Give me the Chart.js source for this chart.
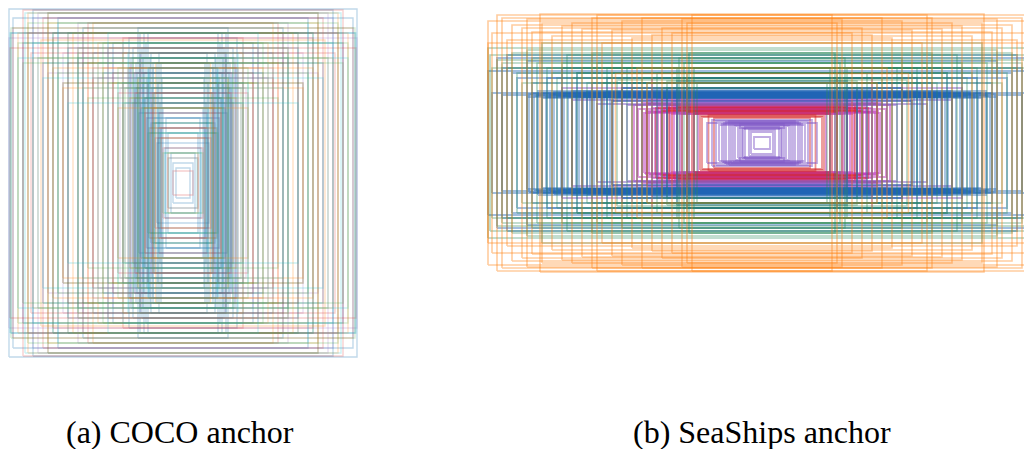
<!DOCTYPE html>
<html>
<head>
<meta charset="utf-8">
<script src="https://cdn.jsdelivr.net/npm/chart.js@4.4.1/dist/chart.umd.min.js"></script>
<style>
  html, body { margin: 0; padding: 0; width: 1024px; height: 449px; overflow: hidden; background: #ffffff; }
  .panel { position: absolute; }
  #cocoWrap { left: 7px; top: 7px; width: 352px; height: 352px; }
  #shipWrap { left: 486px; top: 11px; width: 552px; height: 264px; }
  .cap { position: absolute; font-family: "Liberation Serif", "Times New Roman", serif; font-size: 32px; line-height: 32px; color: #000; white-space: nowrap; }
  #capA { left: 66px; top: 416px; }
  #capB { left: 633px; top: 416px; }
</style>
</head>
<body>
<div id="cocoWrap" class="panel"><canvas id="coco"></canvas></div>
<div id="shipWrap" class="panel"><canvas id="ship"></canvas></div>
<div id="capA" class="cap">(a) COCO anchor</div>
<div id="capB" class="cap">(b) SeaShips anchor</div>
<script>
// ---- Panel captions ----
const captions = ["(a) COCO anchor", "(b) SeaShips anchor"];

// ---- COCO anchors: full width / height of each box (panel pixels) ----
const cocoBlueW = [86, 62, 104, 74, 96, 68, 90, 80, 100, 64, 84, 108, 72, 94, 78, 88, 66, 98, 82, 92, 70, 106, 76, 60,
                   56, 40, 52, 30, 48, 36, 44, 24, 50, 34, 20, 14,
                   348, 344, 300, 280, 250, 230, 200, 180, 160, 140, 120, 340, 320, 260, 210];
const cocoBlueH = [300, 190, 250, 280, 170, 230, 310, 200, 270, 260, 160, 290, 210, 240, 300, 180, 250, 220, 270, 190, 300, 230, 170, 240,
                   120, 150, 80, 100, 140, 70, 110, 60, 90, 130, 40, 30,
                   348, 300, 346, 240, 330, 270, 310, 260, 220, 280, 200, 330, 280, 300, 250];
const cocoTealW = [92, 58, 80, 46, 70, 88, 52, 64, 96, 42, 76, 60, 84, 48, 68, 90, 56, 72, 44, 62, 86, 50, 78, 66];
const cocoTealH = [220, 180, 250, 160, 200, 140, 240, 120, 190, 210, 170, 230, 150, 260, 110, 200, 180, 130, 240, 160, 260, 200, 220, 100];
const cocoCyanW = [346, 316, 330, 300, 280, 250, 230, 210, 200, 170, 150, 130, 110, 90, 70, 50, 36, 120, 96, 86, 80, 68, 58, 46, 28];
const cocoCyanH = [300, 340, 250, 280, 210, 320, 160, 270, 190, 240, 300, 200, 260, 180, 230, 150, 60, 280, 210, 250, 170, 220, 130, 100, 50];
const cocoRedW = [340, 320, 304, 280, 260, 230, 200, 180, 150, 130, 110, 100, 86, 70, 60, 50, 40, 30, 20, 346, 310, 270, 240, 190, 140, 120, 96, 76, 56];
const cocoRedH = [310, 346, 260, 330, 290, 240, 300, 210, 270, 180, 230, 160, 250, 200, 150, 110, 70, 50, 24, 270, 300, 340, 200, 320, 220, 290, 180, 140, 90];
const cocoOrangeW = [300, 270, 250, 220, 190, 170, 140, 120, 106, 90, 76, 60, 55, 44, 30, 284, 330, 310, 260, 240, 210, 180, 160, 130, 66];
const cocoOrangeH = [250, 320, 280, 300, 240, 280, 200, 260, 170, 210, 150, 180, 240, 90, 60, 286, 300, 340, 230, 190, 270, 320, 230, 150, 110];
const cocoGreenW = [330, 310, 290, 260, 240, 210, 190, 160, 130, 116, 100, 80, 60, 40, 344, 320, 270, 250, 230, 200, 150, 120, 90, 70];
const cocoGreenH = [280, 320, 250, 300, 200, 260, 170, 280, 230, 190, 250, 150, 120, 60, 310, 240, 340, 220, 300, 240, 200, 160, 210, 100];
const cocoPurpleW = [320, 290, 240, 210, 180, 150, 126, 104, 84, 64, 44, 348, 300, 270, 230, 200, 170, 140, 116, 96, 74];
const cocoPurpleH = [300, 340, 260, 320, 230, 280, 190, 240, 260, 180, 110, 290, 330, 220, 300, 260, 210, 250, 160, 220, 130];

// ---- SeaShips anchors: full width / height of each box ----
const shipOrangeW = [444, 548, 520, 500, 480, 460, 420, 380, 340, 300, 140, 160, 260, 293, 320, 200, 540, 510, 250, 230,
                     548, 530, 470, 440, 400, 360, 330, 280, 240, 220, 180, 150];
const shipOrangeH = [258, 244, 250, 236, 230, 222, 214, 240, 250, 226, 256, 248, 210, 139, 200, 230, 220, 206, 150, 120,
                     200, 256, 248, 240, 234, 228, 256, 244, 250, 216, 220, 240];
const shipGreenW = [548, 540, 520, 500, 480, 460, 440, 420, 400, 380, 360, 340, 320, 300, 280, 240, 200, 170, 150, 130,
                    544, 530, 510, 490, 470, 450, 430, 410, 390, 370, 350, 330, 310, 290, 270, 260, 230, 210, 190, 166, 156, 146, 136];
const shipGreenH = [190, 150, 160, 180, 120, 170, 200, 140, 160, 130, 150, 180, 120, 140, 170, 130, 110, 150, 140, 120,
                    176, 166, 150, 140, 186, 160, 150, 130, 176, 140, 120, 160, 150, 126, 150, 110, 120, 140, 124, 170, 160, 180, 150];
const shipBlueW = [540, 520, 470, 460, 450, 440, 420, 400, 380, 360, 340, 320, 548, 530, 510, 490, 470, 300, 280, 260, 240, 200,
                   466, 456, 448, 440, 432, 424, 416, 410, 402, 396, 388, 380, 372, 366, 358, 350, 344, 336, 330, 322, 316, 310, 304, 298,
                   520, 500, 460, 430, 400, 370, 340, 310, 280, 250, 220, 190, 170, 150];
const shipBlueH = [100, 96, 92, 100, 96, 90, 98, 94, 100, 96, 92, 100, 144, 170, 176, 130, 164, 84, 110, 120, 96, 90,
                   98, 94, 104, 100, 92, 96, 102, 94, 100, 98, 92, 104, 96, 92, 100, 102, 94, 98, 96, 100, 94, 102, 96, 90,
                   150, 140, 120, 130, 150, 140, 120, 130, 110, 100, 106, 110, 124, 130];
const shipPurpleW = [380, 250, 330, 190, 300, 230, 350, 170, 270, 210, 400, 160, 320, 280, 360, 220,
                     110, 34, 92, 58, 80, 26, 72, 48, 100, 62, 86, 40, 66, 54, 76, 44, 22, 16, 38];
const shipPurpleH = [86, 90, 78, 94, 84, 80, 92, 86, 76, 90, 110, 82, 100, 120, 96, 130,
                     40, 32, 44, 36, 38, 26, 42, 30, 46, 40, 36, 30, 44, 34, 40, 38, 22, 12, 28];
const shipMagentaW = [128, 236, 160, 202, 140, 220, 184, 248, 150, 214, 176, 232, 196, 136, 208, 170, 226, 190, 146, 240, 164, 256, 180, 230];
const shipMagentaH = [68, 60, 72, 66, 64, 70, 58, 68, 66, 62, 72, 64, 70, 60, 74, 66, 62, 70, 64, 80, 58, 76, 84, 86];
const shipRedW = [107, 212, 120, 186, 96, 200, 150, 230, 136, 170, 124, 190];
const shipRedH = [56, 70, 52, 76, 50, 64, 62, 78, 58, 72, 54, 66];

function boxDatasets(ws, hs, color, width) {
  return ws.map((w, i) => {
    const h = hs[i];
    return {
      data: [
        { x: -w / 2, y: -h / 2 }, { x: w / 2, y: -h / 2 },
        { x: w / 2, y: h / 2 }, { x: -w / 2, y: h / 2 },
        { x: -w / 2, y: -h / 2 }
      ],
      showLine: true,
      borderColor: color,
      borderWidth: width,
      pointRadius: 0,
      pointHoverRadius: 0,
      fill: false,
      tension: 0
    };
  });
}

function makeChart(id, datasets, halfX, halfY) {
  new Chart(document.getElementById(id), {
    type: 'scatter',
    data: { datasets: datasets },
    options: {
      responsive: true,
      maintainAspectRatio: false,
      animation: false,
      events: [],
      layout: { padding: 0 },
      plugins: { legend: { display: false }, tooltip: { enabled: false }, title: { display: false } },
      scales: {
        x: { type: 'linear', min: -halfX, max: halfX, display: false },
        y: { type: 'linear', min: -halfY, max: halfY, display: false }
      }
    }
  });
}

const cocoSets = [].concat(
  boxDatasets(cocoCyanW, cocoCyanH, 'rgba(23,190,207,0.22)', 1.4),
  boxDatasets(cocoGreenW, cocoGreenH, 'rgba(44,160,44,0.20)', 1.4),
  boxDatasets(cocoOrangeW, cocoOrangeH, 'rgba(255,127,14,0.24)', 1.4),
  boxDatasets(cocoRedW, cocoRedH, 'rgba(214,39,40,0.22)', 1.4),
  boxDatasets(cocoPurpleW, cocoPurpleH, 'rgba(148,103,189,0.22)', 1.4),
  boxDatasets(cocoTealW, cocoTealH, 'rgba(40,120,160,0.28)', 1.4),
  boxDatasets(cocoBlueW, cocoBlueH, 'rgba(31,119,180,0.28)', 1.4)
);
const shipSets = [].concat(
  boxDatasets(shipOrangeW, shipOrangeH, 'rgba(255,127,14,0.40)', 1.6),
  boxDatasets(shipGreenW, shipGreenH, 'rgba(44,140,90,0.38)', 1.6),
  boxDatasets(shipBlueW, shipBlueH, 'rgba(31,100,180,0.42)', 1.8),
  boxDatasets(shipPurpleW, shipPurpleH, 'rgba(130,90,200,0.50)', 1.8),
  boxDatasets(shipRedW, shipRedH, 'rgba(214,39,40,0.50)', 1.8),
  boxDatasets(shipMagentaW, shipMagentaH, 'rgba(190,50,190,0.50)', 2)
);

makeChart('coco', cocoSets, 176, 176);
makeChart('ship', shipSets, 276, 132);
</script>
</body>
</html>
